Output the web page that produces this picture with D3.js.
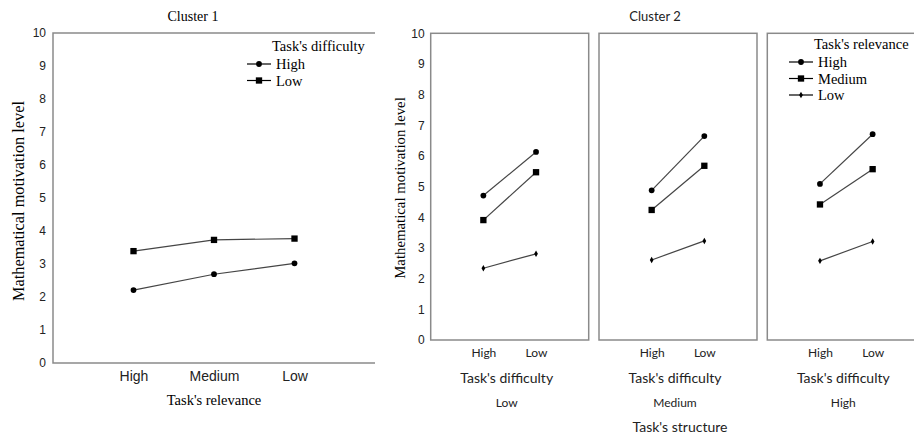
<!DOCTYPE html>
<html>
<head>
<meta charset="utf-8">
<script src="https://cdn.jsdelivr.net/npm/d3@7"></script>
<style>
  body { margin: 0; background: #fff; }
  svg { display: block; }
</style>
</head>
<body>
<svg id="drawing_region"></svg>
<script>
// ---- data ----
const yTickValues = [0, 1, 2, 3, 4, 5, 6, 7, 8, 9, 10];

// Cluster 1 : x = task's relevance, lines = task's difficulty
const relevanceLevels = ["High", "Medium", "Low"];
const c1HighDifficulty = [2.21, 2.69, 3.02];
const c1LowDifficulty = [3.39, 3.73, 3.77];

// Cluster 2 : panels = task's structure, x = task's difficulty, lines = task's relevance
const structureLevels = ["Low", "Medium", "High"];
const difficultyLevels = ["High", "Low"];
const c2HighRelevance = [[4.71, 6.13], [4.88, 6.65], [5.09, 6.71]];
const c2MediumRelevance = [[3.91, 5.47], [4.24, 5.68], [4.42, 5.57]];
const c2LowRelevance = [[2.34, 2.81], [2.61, 3.23], [2.58, 3.21]];

// ---- setup ----
const W = 914, H = 436;
const svg = d3.select('#drawing_region')
    .attr('width', W)
    .attr('height', H);

const frameColor = '#8a8a8a';
const lineColor = '#454545';
const serif = '"Liberation Serif", "Times New Roman", serif';
const sans = '"Liberation Sans", Arial, sans-serif';
const calib = 'Lato, "Open Sans", sans-serif';

const markers = {
    circle: { type: d3.symbolCircle, size: 26 },
    square: { type: d3.symbolSquare, size: 40 },
    dot: { type: d3.symbolDiamond, size: 12 }
};

function drawSeries(g, xscale, yscale, cats, values, marker) {
    const pts = cats.map((c, i) => ({ c: c, v: values[i] }));
    g.append('path')
        .attr('d', d3.line().x(d => xscale(d.c)).y(d => yscale(d.v))(pts))
        .attr('fill', 'none')
        .attr('stroke', lineColor)
        .attr('stroke-width', 1.2);
    g.selectAll(null)
        .data(pts)
        .enter()
        .append('path')
        .attr('transform', d => `translate(${xscale(d.c)},${yscale(d.v)})`)
        .attr('d', d3.symbol().type(markers[marker].type).size(markers[marker].size))
        .attr('fill', '#000');
}

function drawLegend(x, y, title, items, rowGap) {
    const lg = svg.append('g').attr('transform', `translate(${x},${y})`);
    lg.append('text')
        .attr('x', 25)
        .attr('y', 0)
        .attr('font-family', serif)
        .attr('font-size', 14.5)
        .text(title);
    items.forEach((it, i) => {
        const yy = 13 + i * rowGap;
        lg.append('line')
            .attr('x1', 0).attr('x2', 24)
            .attr('y1', yy).attr('y2', yy)
            .attr('stroke', '#000')
            .attr('stroke-width', 1.2);
        lg.append('path')
            .attr('transform', `translate(12,${yy})`)
            .attr('d', d3.symbol().type(markers[it.marker].type).size(markers[it.marker].size))
            .attr('fill', '#000');
        lg.append('text')
            .attr('x', 29)
            .attr('y', yy + 5)
            .attr('font-family', serif)
            .attr('font-size', 14.5)
            .text(it.label);
    });
}

function styleAxis(g, font, size) {
    g.select('.domain').remove();
    g.selectAll('text')
        .attr('font-family', font)
        .attr('font-size', size)
        .attr('fill', '#222');
}

// ---- Cluster 1 ----
const c1 = { left: 53, top: 33, width: 322, height: 330 };
const c1g = svg.append('g').attr('transform', `translate(${c1.left},${c1.top})`);

const c1x = d3.scalePoint().domain(relevanceLevels).range([0, c1.width]).padding(1);
const c1y = d3.scaleLinear().domain([0, 10]).range([c1.height, 0]);

// frame: left, top, bottom
c1g.append('path')
    .attr('d', `M${c1.width},0H0V${c1.height}H${c1.width}`)
    .attr('fill', 'none')
    .attr('stroke', frameColor)
    .attr('stroke-width', 1.5);

styleAxis(c1g.append('g')
    .call(d3.axisLeft(c1y).tickValues(yTickValues).tickSize(0).tickPadding(7)), sans, 12);
styleAxis(c1g.append('g')
    .attr('transform', `translate(0,${c1.height})`)
    .call(d3.axisBottom(c1x).tickSize(0).tickPadding(8.5)), sans, 14);

drawSeries(c1g, c1x, c1y, relevanceLevels, c1LowDifficulty, 'square');
drawSeries(c1g, c1x, c1y, relevanceLevels, c1HighDifficulty, 'circle');

svg.append('text')
    .attr('x', 193).attr('y', 20.5)
    .attr('text-anchor', 'middle')
    .attr('font-family', serif).attr('font-size', 14)
    .text('Cluster 1');
svg.append('text')
    .attr('x', c1.left + c1x('Medium')).attr('y', 405)
    .attr('text-anchor', 'middle')
    .attr('font-family', serif).attr('font-size', 14.5)
    .text("Task's relevance");
svg.append('text')
    .attr('transform', 'translate(18,201) rotate(-90)')
    .attr('text-anchor', 'middle')
    .attr('dy', '0.35em')
    .attr('font-family', serif).attr('font-size', 16.3)
    .text('Mathematical motivation level');

drawLegend(247, 51, "Task's difficulty",
    [{ label: 'High', marker: 'circle' }, { label: 'Low', marker: 'square' }], 16.5);

// ---- Cluster 2 ----
const c2 = { left: 430.7, top: 33.3, width: 158, height: 306.7, gap: 10.3 };
const panelScale = d3.scaleBand()
    .domain(structureLevels)
    .range([c2.left, c2.left + 3 * c2.width + 2 * c2.gap])
    .paddingInner(c2.gap / (c2.width + c2.gap));
const c2x = d3.scalePoint().domain(difficultyLevels).range([0, c2.width]).padding(1);
const c2y = d3.scaleLinear().domain([0, 10]).range([c2.height, 0]);

structureLevels.forEach((s, i) => {
    const pg = svg.append('g').attr('transform', `translate(${panelScale(s)},${c2.top})`);
    pg.append('rect')
        .attr('width', c2.width)
        .attr('height', c2.height)
        .attr('fill', 'none')
        .attr('stroke', frameColor)
        .attr('stroke-width', 1.5);
    if (i === 0) {
        styleAxis(pg.append('g')
            .call(d3.axisLeft(c2y).tickValues(yTickValues).tickSize(0).tickPadding(6)), sans, 12);
    }
    styleAxis(pg.append('g')
        .attr('transform', `translate(0,${c2.height})`)
        .call(d3.axisBottom(c2x).tickSize(0).tickPadding(8)), calib, 12);

    drawSeries(pg, c2x, c2y, difficultyLevels, c2LowRelevance[i], 'dot');
    drawSeries(pg, c2x, c2y, difficultyLevels, c2MediumRelevance[i], 'square');
    drawSeries(pg, c2x, c2y, difficultyLevels, c2HighRelevance[i], 'circle');

    const cx = panelScale(s) + c2.width / 2 - 3;
    svg.append('text')
        .attr('x', cx).attr('y', 383.3)
        .attr('text-anchor', 'middle')
        .attr('font-family', calib).attr('font-size', 14)
        .attr('fill', '#222')
        .text("Task's difficulty");
    svg.append('text')
        .attr('x', cx).attr('y', 406.7)
        .attr('text-anchor', 'middle')
        .attr('font-family', calib).attr('font-size', 12)
        .attr('fill', '#222')
        .text(s);
});

svg.append('text')
    .attr('x', 655).attr('y', 21)
    .attr('text-anchor', 'middle')
    .attr('font-family', calib).attr('font-size', 13)
    .attr('fill', '#222')
    .text('Cluster 2');
svg.append('text')
    .attr('x', 680).attr('y', 431.5)
    .attr('text-anchor', 'middle')
    .attr('font-family', calib).attr('font-size', 14)
    .attr('fill', '#222')
    .text("Task's structure");
svg.append('text')
    .attr('transform', 'translate(399.5,188) rotate(-90)')
    .attr('text-anchor', 'middle')
    .attr('dy', '0.35em')
    .attr('font-family', serif).attr('font-size', 14.8)
    .text('Mathematical motivation level');

drawLegend(789, 49, "Task's relevance",
    [{ label: 'High', marker: 'circle' }, { label: 'Medium', marker: 'square' }, { label: 'Low', marker: 'dot' }], 16.5);
</script>
</body>
</html>
